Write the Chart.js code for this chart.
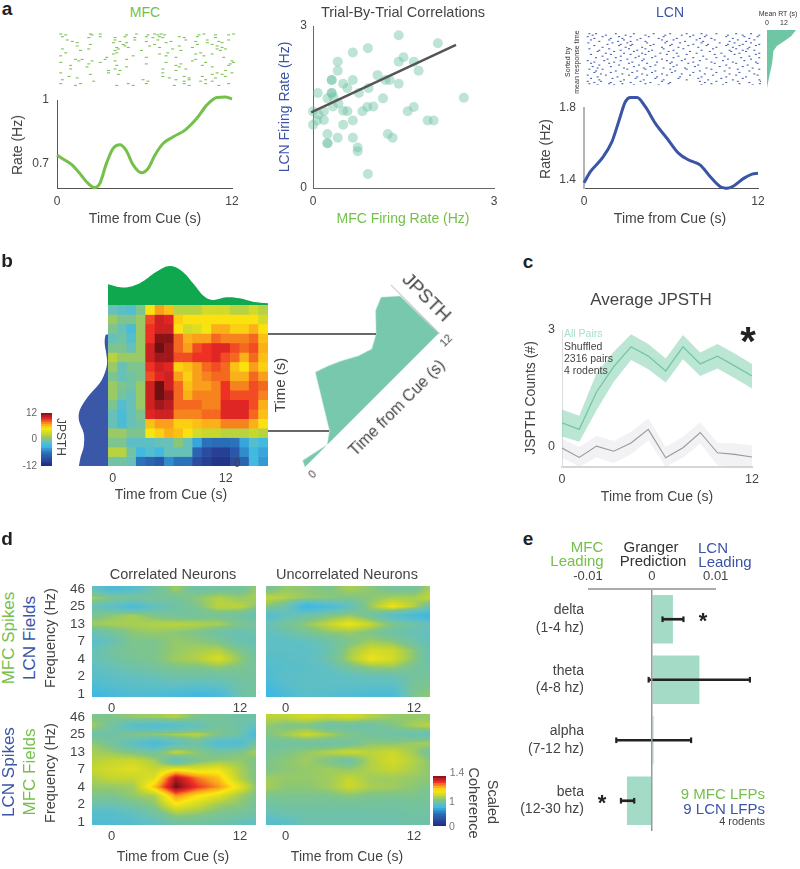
<!DOCTYPE html>
<html>
<head>
<meta charset="utf-8">
<script src="https://cdn.jsdelivr.net/npm/chart.js@4/dist/chart.umd.min.js"></script>
<style>
  html, body { margin: 0; padding: 0; background: #fff; }
  #page { position: relative; width: 800px; height: 869px; overflow: hidden; font-family: "Liberation Sans", Arial, sans-serif; }
  #page canvas { position: absolute; }
  .lbl { position: absolute; white-space: nowrap; line-height: 1; }
</style>
</head>
<body>
<div id="page"></div>
<script>
// ---- panel a: rate curves (time, Hz)
const mfcTime = [0,0.53,0.99,1.56,2.02,2.59,2.94,3.39,3.85,4.31,4.72,5.23,5.8,6.26,6.72,7.29,7.98,8.78,9.59,10.28,10.96,11.54,12];
const mfcRate = [0.742,0.719,0.698,0.656,0.617,0.589,0.609,0.703,0.773,0.79,0.766,0.695,0.659,0.68,0.742,0.797,0.828,0.859,0.914,0.977,1.012,1.014,1.005];
const lcnTime = [0,0.44,1.24,1.93,2.39,2.85,3.2,3.66,4.23,4.92,5.72,6.53,7.22,8.02,8.71,9.4,9.86,10.32,11.01,11.59,12];
const lcnRate = [1.385,1.446,1.52,1.613,1.724,1.835,1.859,1.859,1.807,1.715,1.632,1.548,1.511,1.483,1.418,1.363,1.354,1.367,1.409,1.433,1.437];

// rasters: [trial row, [time bins]]
const mfcRaster = [
  [93,[180,270,300,410,465,485,615,705]],[96,[195,275,380,445,475,495,600,650,690]],
  [102,[185,300,375,440,480,540,595]],[105,[265,345,405,460,490,555,650]],
  [113,[200,345,405,475,560,625,690]],[118,[215,360,440,515,590,660]],
  [122,[230,340,380,500,625,670]],[128,[270,370,465,595,640]],
  [133,[230,375,450,540,655]],[138,[350,385,480,580,670]],
  [143,[185,265,355,520,655,680]],[148,[240,345,425,545,665]],
  [156,[195,350,505,605]],[160,[340,480,590,640]],
  [166,[180,400,500,615]],[171,[320,440,530,675]],
  [178,[225,245,315,380,590]],[183,[235,275,345,580,700]],
  [188,[180,300,500,620,705]],[193,[265,440,545,695]],
  [198,[210,350,530,610,690]],[203,[260,380,540,640]],
  [210,[210,345,490,560]],[215,[325,360,530,680]],
  [223,[180,325,490,655,700]],[228,[270,355,640,670]],
  [235,[205,490,555,610,680]],[240,[230,510,570,650]],
  [246,[185,430,530,570,620]],[251,[280,445,555,605,640]],
  [259,[180,240,385,440,555,620,690]],[265,[225,350,400,525,570,660]]
];
const lcnRaster = [
  [92,[175,195,255,310,370,420,470,515,560,620,665]],[97,[185,225,285,345,405,455,490,530,595,640,690]],
  [102,[170,215,265,300,355,400,480,525,590,645,685]],[108,[190,240,275,330,385,440,510,545,610,660]],
  [113,[180,235,280,320,395,430,500,555,625,675]],[118,[205,262,300,345,410,465,520,600,650]],
  [123,[172,245,290,350,405,450,515,570,615,665]],[128,[230,270,305,370,425,490,535,595,640,690]],
  [132,[190,265,300,360,420,475,530,590,630,680]],[138,[215,285,335,395,445,505,560,610,660]],
  [143,[175,235,295,345,400,460,550,620,655]],[148,[205,270,320,365,430,515,600,640,675]],
  [152,[200,250,310,355,415,480,540,605,650]],[158,[225,280,335,390,440,500,575,630,690]],
  [162,[180,240,300,345,410,470,555,615,680]],[168,[215,270,325,375,445,520,585,660]],
  [173,[195,255,315,365,430,490,560,635,690]],[178,[230,290,340,395,465,530,595,665]],
  [183,[170,220,270,335,410,455,510,580,645]],[188,[190,250,305,380,425,490,545,610,680]],
  [192,[180,235,295,350,420,475,555,620,685]],[198,[205,265,325,375,440,505,590,655]],
  [203,[185,240,310,360,430,495,570,640]],[208,[200,280,340,400,465,530,600,670]],
  [212,[175,215,290,345,420,470,545,625,690]],[218,[195,255,320,375,435,510,585,660]],
  [223,[190,240,305,365,425,490,560,630]],[228,[210,275,335,395,455,525,600,675]],
  [232,[170,225,295,350,410,480,550,620,685]],[238,[200,260,320,380,450,515,590,650]],
  [243,[180,245,315,375,445,505,575,640]],[248,[205,280,340,400,470,535,610,690]],
  [253,[170,210,270,330,395,510,560,625,695]],[257,[190,240,300,360,420,525,590,660]],
  [261,[175,235,275,345,415,545,630,692]],[265,[200,250,310,385,515,580,670]]
];
const rtTrial = [92,110,125,140,155,190,230,265];
const rtMean = [1,0.84,0.6,0.34,0.22,0.18,0.08,0];

// trial by trial scatter
const mfcFiring = [1.42,2.07,0.91,0.66,1.5,1.42,1.67,0.41,0.41,1.75,1.07,0.31,0.31,0.66,1.2,1.27,1.42,0.5,0.57,0.92,0.76,0.08,0.31,0.31,0.24,0.34,1.16,2.5,0.42,1.67,0.9,1,0,0.5,0.57,0.82,1.57,0.33,0.09,0.18,0.18,0.07,0.66,0,0.5,1.9,2,0.24,0.41,0.66,1.24,1.32,0.24,0.24,0.74,0.74,0.91];
const lcnFiring = [2.83,2.68,2.59,2.51,2.42,2.34,2.34,2.34,2.17,2.17,2.09,2,2,2,2,2,1.93,1.93,1.85,1.85,1.76,1.76,1.76,1.76,1.66,1.68,1.66,1.67,1.57,1.5,1.5,1.51,1.42,1.43,1.42,1.42,1.42,1.51,1.36,1.42,1.26,1.25,1.25,1.17,1.17,1.25,1.25,1,0.93,0.93,1,0.93,0.83,0.83,0.75,0.68,0.26];
const fitX = [-0.03,2.37];
const fitY = [1.4,2.65];

// ---- panel b: JPSTH matrix, top row first
const jpsthCols = ['0','1','2','3','4','5','6','7','8','9','10','11','12','13','14','15','16'];
const jpsth = [
  [-1,-1.5,-2,0,5,7,6,2,2,2,3,3,3,2,2,3,2],
  [1,0,0,1,8.5,10,9.5,5.5,5,5,5,5,5,5,5,5,3],
  [0,-1,-2.5,1,9,10,10,5,3,3.5,4.5,6.5,6.5,5.5,5.5,6.5,5],
  [-1,-0.5,-2,1,9,11.5,11.5,8,6.5,7,7,8,7.5,7.5,7.5,8,6],
  [0,0,-1,1,10,12,11,8,7,8.5,9,9.5,9.5,8.5,8,8.5,6.5],
  [2,1,1,1,10,11,11,8.5,8.5,9,9,9.5,8.5,8,6.5,8,6],
  [1,-1,0,0,9,10,9.5,5.5,6,7,8,8.5,8,6,5,7,5.5],
  [0,-1,-0.5,0,8.5,9.5,10,7,5.5,7,7.5,8,8,6.5,6.5,8,7],
  [1,0,-0.5,1,10,12,10,8,6,7,7,7.5,9,7.5,7.5,8.5,8],
  [1,-0.5,-1,1,10,12,11,8,6.5,7.5,7.5,7.5,9,8.5,8.5,8.5,7.5],
  [0,-2,-1,1,10,11,10.5,8,8,8,7.5,7.5,9.5,9.5,9.5,8.5,6.5],
  [-1,-2.5,-1,0,9.5,10,10,7.5,7.5,7.5,8,8,9.5,9.5,9.5,8,6],
  [-1,-2.5,-1,-0.5,6,7,7,5.5,5.5,6,6.5,6.5,7.5,7.5,7.5,6.5,5],
  [1,1,0,0,4.5,5.5,6.5,6,5,3,2.5,2.5,2,2,2,2.5,2],
  [0,0,-1.5,-1.5,-1.5,-1,-1,0.5,-1,-4,-6,-6.5,-6.5,-6,-4,-2,-3],
  [2,2,-0.5,-3,-2,-3,-1,-1,-1,-7,-9,-10,-10,-8,-5,-3,-4],
  [-0.5,-0.5,-1,-6,-7,-8,-5,-6,-6,-9,-10,-11,-11,-9,-7,-3,-4.5]
];
const topDensityX = [0,1.6,3.37,5.14,6.56,7.8,9.04,10.28,11.17,12.59,14,15.4,17];
const topDensityY = [0.53,0.45,0.56,0.85,1,0.88,0.56,0.21,0.13,0.197,0.17,0.085,0.043];
const leftDensityRow = [0,0.99,2.04,3.45,4.86,5.92,7.32,8.73,9.79,10.85,11.9,12.96,13.84,13.9];
const leftDensityVal = [0.97,0.91,0.81,0.81,0.97,0.94,0.67,0.28,0.11,0.03,0.06,0.11,0.08,0];
const diagTime = [0,0.19,2,2.74,4.72,5.5,6.34,7.39,8.3,9.15,10.2,11.04,11.95,12];
const diagCount = [0,0.38,0,0.52,3.6,3.35,3,2.45,2.18,2.62,3.66,4,3.22,0];

// ---- panel c: average JPSTH
const avgTime = [0,1.09,2.18,3.27,4.36,5.45,6.55,7.64,8.73,9.82,10.91,12];
const allMean = [0.62,0.45,1.41,2.06,2.57,2.33,1.95,2.57,2.13,2.33,2.08,1.82];
const allUpper = [0.96,0.8,1.89,2.44,2.89,2.64,2.27,2.87,2.42,2.64,2.4,2.13];
const allLower = [0.27,0.13,0.94,1.67,2.23,1.99,1.65,2.25,1.82,2.01,1.76,1.5];
const shufMean = [-0.03,-0.27,0.02,-0.11,0.1,0.45,-0.28,-0.02,0.37,-0.15,-0.19,-0.26];
const shufUpper = [0.21,0,0.28,0.15,0.39,0.73,0,0.26,0.63,0.11,0.09,0.04];
const shufLower = [-0.27,-0.51,-0.27,-0.41,-0.19,0.17,-0.51,-0.27,0.09,-0.47,-0.51,-0.51];

// ---- panel d: scaled coherence, top row (46 Hz) first
const freqLabels = ['1','2','4','7','13','25','46'];
const cohTime = [-2,0,2,4,6,8,10,12,13.5];
const cohCorrTop = [
  [0.92,0.8,0.85,0.95,1.04,0.95,0.97,0.97,1.03],
  [1.05,1,0.98,0.98,0.98,1.02,1.06,1.03,1.05],
  [0.93,0.88,0.8,0.9,0.95,1,1.07,1.07,1.02],
  [0.98,1.02,1.05,1,0.97,0.97,0.98,0.96,0.92],
  [1.04,1.05,1.05,1.06,1.07,1.06,1.05,1,0.97],
  [0.92,0.97,1.02,1.03,1.02,1,0.95,0.92,0.95],
  [0.86,0.92,1,1,1.03,1.02,1,0.93,0.92],
  [0.9,0.97,1,1,1.03,1.05,1.06,1,0.95],
  [0.92,0.95,0.98,1,1.04,1.06,1.11,1.03,0.97],
  [0.88,0.92,0.95,0.97,1,1,1.02,1,0.97],
  [0.85,0.88,0.9,0.92,0.95,0.95,0.95,0.97,0.97],
  [0.8,0.85,0.87,0.88,0.9,0.88,0.9,0.95,0.97],
  [0.73,0.78,0.82,0.82,0.78,0.76,0.78,0.95,0.97]
];
const cohUncorrTop = [
  [0.98,1.03,1.02,1,1.05,1.02,0.98,0.98,1.05],
  [1.08,1.06,1.03,1.02,1,1.02,1.05,1.05,1.08],
  [1.02,0.95,0.72,0.8,0.9,1.04,1.14,1.06,0.95],
  [0.82,0.9,0.95,1,1.03,0.97,0.86,0.78,0.72],
  [0.92,0.98,1.03,1.08,1.14,1.08,1,0.95,0.92],
  [0.88,0.93,0.98,1.02,1.03,1,0.95,0.92,0.9],
  [0.88,0.88,0.9,0.95,1,1.04,1.02,0.95,0.9],
  [0.88,0.88,0.88,0.93,1.04,1.1,1.09,1.02,0.92],
  [0.85,0.87,0.88,0.95,1.05,1.14,1.1,1.02,0.93],
  [0.82,0.85,0.87,0.9,0.98,1.02,1.03,0.98,0.95],
  [0.8,0.87,0.88,0.88,0.9,0.92,0.92,0.97,0.98],
  [0.75,0.85,0.88,0.88,0.88,0.88,0.88,0.98,1],
  [0.72,0.8,0.87,0.85,0.82,0.8,0.8,1,1.02]
];
const cohCorrBottom = [
  [1,1,1.03,1.04,1.06,1,0.97,0.95,0.95],
  [1.05,0.97,0.85,0.82,0.85,0.9,0.98,0.95,0.9],
  [0.95,0.95,1,1.02,1.05,1.07,1,0.95,0.78],
  [1.03,0.98,0.88,0.78,0.88,0.95,0.82,0.82,0.98],
  [1.05,1.03,1,0.97,1.08,1.02,0.97,1,1.05],
  [1.06,1.08,1.09,1.05,0.9,1,1.03,1.03,1],
  [1.08,1.1,1.12,1.08,1.15,1.12,1.14,1.05,1],
  [1.05,1.08,1.08,1.12,1.36,1.26,1.2,1.06,1],
  [1.03,1.03,1.04,1.2,1.4,1.3,1.24,1.13,1.02],
  [1,1,1.03,1.05,1.24,1.17,1.12,1.04,1],
  [0.95,0.93,0.98,1.02,1.15,1.1,1.04,1.02,0.98],
  [0.85,0.85,0.9,0.97,1.05,1.03,1,0.98,0.95],
  [0.82,0.82,0.85,0.9,0.97,0.97,0.95,0.92,0.9]
];
const cohUncorrBottom = [
  [1.07,1.07,1.1,1.08,1.1,1.06,1.03,1.03,1.03],
  [1.03,1,1,0.95,0.95,0.95,1,1.05,1.07],
  [1,1.04,1.09,1.05,1,0.97,0.95,0.93,0.92],
  [0.96,0.96,0.96,0.95,0.97,1.02,1.02,1.04,1.05],
  [0.97,1,1.03,1.06,1.09,1.07,1.09,1.04,0.97],
  [1,1.02,1.04,1,0.96,1.06,1.1,1.06,1.02],
  [1,1.02,1.03,1.04,1.03,1.06,1.08,1.05,1.02],
  [1.04,1.03,1.03,1.04,1.08,1.04,1.04,1.03,1.02],
  [1.05,1.02,1.02,1.04,1.09,1.05,1.04,1.02,1],
  [1,1,1,1,1.02,1,1,1,0.98],
  [0.95,0.97,0.97,0.97,0.97,0.97,0.96,0.97,0.97],
  [0.92,0.94,0.95,0.95,0.95,0.95,0.95,0.96,0.96],
  [0.84,0.88,0.94,0.94,0.94,0.94,0.94,0.95,0.95]
];

// ---- panel e: granger prediction
const bands = [['delta','(1-4 hz)'],['theta','(4-8 hz)'],['alpha','(7-12 hz)'],['beta','(12-30 hz)']];
const granger = [0.0033,0.00745,0.00026,-0.0039];
const grangerLow = [0.00167,-0.0005,-0.00557,-0.00484];
const grangerHigh = [0.00495,0.01536,0.00615,-0.00276];

// colours
const GREEN = '#74c04a', BLUE = '#3a54a6', TEAL = '#78c8ad', TEXT = '#444';
const jetStops = [[0,'#1f2a7c'],[0.12,'#2a4aa0'],[0.25,'#2b72bb'],[0.36,'#3cb7e6'],[0.45,'#62c0c0'],[0.52,'#88c67a'],[0.6,'#c5d62f'],[0.7,'#fce70f'],[0.79,'#f9a11b'],[0.88,'#ee2a26'],[0.94,'#b81c20'],[1,'#6e0f12']];

function jet(t) {
  t = Math.max(0, Math.min(1, t));
  for (let i = 1; i < jetStops.length; i++) {
    if (t <= jetStops[i][0]) {
      const a = jetStops[i - 1], b = jetStops[i];
      const f = (t - a[0]) / (b[0] - a[0]);
      const c = [1, 3, 5].map(k => {
        const p = parseInt(a[1].substr(k, 2), 16), q = parseInt(b[1].substr(k, 2), 16);
        return Math.round(p + (q - p) * f);
      });
      return 'rgb(' + c.join(',') + ')';
    }
  }
  return jetStops[jetStops.length - 1][1];
}
// coherence: 1 sits in the middle of the colour bar
const cohColor = v => jet(v <= 1 ? v / 2 : 0.5 + (v - 1) / 0.8);
const jpsthColor = v => jet((v + 12) / 24);

const page = document.getElementById('page');
Chart.defaults.font.family = '"Liberation Sans", Arial, sans-serif';
Chart.defaults.color = TEXT;

function label(text, x, y, size, color, rot, extra) {
  const d = document.createElement('div');
  d.className = 'lbl';
  d.textContent = text;
  d.style.left = x + 'px';
  d.style.top = y + 'px';
  d.style.fontSize = size + 'px';
  d.style.color = color || TEXT;
  d.style.transform = 'translate(-50%,-50%) rotate(' + (rot || 0) + 'deg)';
  if (extra) Object.assign(d.style, extra);
  page.appendChild(d);
}
function rule(x, y, w, h, color) {
  const d = document.createElement('div');
  d.style.cssText = 'position:absolute;left:' + x + 'px;top:' + y + 'px;width:' + w + 'px;height:' + h + 'px;background:' + color;
  page.appendChild(d);
}

// plain axis, nothing visible unless asked for
function axis(opts) {
  return Object.assign({ display: true, grid: { display: false, drawTicks: false }, border: { display: false }, ticks: { display: false } }, opts);
}
function ticksAt(vals) {
  return s => { s.ticks = vals.map(v => ({ value: v })); };
}
function tickFont(size, pad) {
  return { display: true, autoSkip: false, maxRotation: 0, padding: pad, font: { size: size }, color: TEXT, callback: v => v };
}
// tick labels may hang over the plot edge without shrinking the plot
function noEdgePadding(s) {
  s.paddingLeft = s.paddingRight = s.paddingTop = s.paddingBottom = 0;
}

// b = plot rectangle x,y,w,h and the margins l,t,r,b round it
function addChart(b, config, rotate) {
  const c = document.createElement('canvas');
  const W = b.l + b.w + b.r, H = b.t + b.h + b.b;
  c.width = W; c.height = H;
  c.style.left = (b.x - b.l) + 'px';
  c.style.top = (b.y - b.t) + 'px';
  c.style.width = W + 'px';
  c.style.height = H + 'px';
  if (rotate) {
    c.style.transformOrigin = b.l + 'px ' + (b.t + b.h) + 'px';
    c.style.transform = 'rotate(' + rotate + 'deg)';
  }
  page.appendChild(c);
  const sx = config.options.scales.x, sy = config.options.scales.y;
  const xTop = sx.position === 'top', yRight = sy.position === 'right';
  sx.afterFit = s => { s.height = xTop ? b.t : b.b; noEdgePadding(s); };
  sy.afterFit = s => { s.width = yRight ? b.r : b.l; noEdgePadding(s); };
  config.options.responsive = false;
  config.options.animation = false;
  config.options.layout = { padding: { left: yRight ? b.l : 0, right: yRight ? 0 : b.r, top: xTop ? 0 : b.t, bottom: xTop ? b.b : 0 } };
  config.options.plugins = Object.assign({ legend: { display: false }, tooltip: { enabled: false } }, config.options.plugins);
  return new Chart(c, config);
}
const pairs = (xs, ys) => xs.map((x, i) => ({ x: x, y: ys[i] }));

// ---------------- panel a
function rasterChart(b, rows, xr, yr, color, radius) {
  addChart(b, {
    type: 'scatter',
    data: { datasets: [{
      data: rows.flatMap(r => r[1].map(x => ({ x: x, y: r[0] }))),
      pointStyle: 'line', pointRadius: radius, borderColor: color, backgroundColor: color, borderWidth: 1.1
    }] },
    options: { scales: {
      x: axis({ type: 'linear', min: xr[0], max: xr[1] }),
      y: axis({ type: 'linear', min: yr[0], max: yr[1], reverse: true })
    } }
  });
}
rasterChart({ x: 57, y: 30, w: 180, h: 60, l: 4, t: 2, r: 4, b: 2 }, mfcRaster, [172, 712], [90, 270], '#7cc354', 1.5);
rasterChart({ x: 585, y: 30, w: 177, h: 58, l: 4, t: 2, r: 4, b: 2 }, lcnRaster, [165, 695], [90, 265], '#4660b4', 1);

function rateChart(b, xs, ys, yr, yTicks, color, yBorder) {
  addChart(b, {
    type: 'scatter',
    data: { datasets: [{ data: pairs(xs, ys), showLine: true, cubicInterpolationMode: 'monotone', clip: false, pointRadius: 0, borderColor: color, borderWidth: 3 }] },
    options: { scales: {
      x: axis({ type: 'linear', min: 0, max: 12, afterBuildTicks: ticksAt([0, 12]), border: { display: true, color: '#555', width: 1 }, ticks: tickFont(12, 6) }),
      y: axis({ type: 'linear', min: yr[0], max: yr[1], afterBuildTicks: ticksAt(yTicks), border: yBorder, ticks: tickFont(12, 8) })
    } }
  });
}
rateChart({ x: 57, y: 100, w: 175, h: 88, l: 40, t: 12, r: 16, b: 24 }, mfcTime, mfcRate, [0.5875, 1], [0.7, 1], '#74c04a', { display: true, color: '#555', width: 1 });
rateChart({ x: 584, y: 108, w: 174, h: 80, l: 40, t: 16, r: 16, b: 24 }, lcnTime, lcnRate, [1.3556, 1.8], [1.4, 1.8], '#3a54a6', { display: true, color: '#b5b5b5', width: 2 });

addChart({ x: 313, y: 26, w: 181, h: 162, l: 26, t: 10, r: 14, b: 24 }, {
  type: 'scatter',
  data: { datasets: [
    { data: pairs(fitX, fitY), showLine: true, pointRadius: 0, borderColor: '#555', borderWidth: 2.5, clip: false },
    { data: pairs(mfcFiring, lcnFiring), pointRadius: 5, borderWidth: 0, backgroundColor: 'rgba(110,195,165,0.45)', clip: false }
  ] },
  options: { scales: {
    x: axis({ type: 'linear', min: 0, max: 3, afterBuildTicks: ticksAt([0, 3]), border: { display: true, color: '#666', width: 1 }, ticks: tickFont(12, 6) }),
    y: axis({ type: 'linear', min: 0, max: 3, afterBuildTicks: ticksAt([0, 3]), border: { display: true, color: '#666', width: 1 }, ticks: tickFont(12, 6) })
  } }
});

addChart({ x: 767, y: 30, w: 29, h: 58, l: 2, t: 2, r: 2, b: 2 }, {
  type: 'line',
  data: { datasets: [{ data: pairs(rtMean, rtTrial), fill: 'origin', backgroundColor: '#6fc6a5', borderWidth: 0, pointRadius: 0 }] },
  options: { indexAxis: 'y', scales: {
    x: axis({ type: 'linear', min: 0, max: 1 }),
    y: axis({ type: 'linear', min: 92, max: 265, reverse: true })
  } }
});

// ---------------- panel b
addChart({ x: 108, y: 305, w: 160, h: 161, l: 4, t: 2, r: 4, b: 22 }, {
  type: 'bar',
  data: {
    labels: jpsthCols,
    datasets: jpsth.map((row, i) => ({
      data: row.map(() => [16 - i, 17 - i]),
      backgroundColor: row.map(jpsthColor),
      grouped: false, categoryPercentage: 1, barPercentage: 1, borderWidth: 0
    }))
  },
  options: { scales: {
    x: axis({ type: 'category', ticks: Object.assign(tickFont(12.5, 5), { callback: function (v) { return v === 0 || v === 12 ? this.getLabelForValue(v) : ''; } }) }),
    y: axis({ type: 'linear', min: 0, max: 17 })
  } }
});
addChart({ x: 108, y: 266, w: 160, h: 39, l: 2, t: 2, r: 2, b: 0 }, {
  type: 'scatter',
  data: { datasets: [{ data: pairs(topDensityX, topDensityY), showLine: true, tension: 0.4, fill: 'origin', backgroundColor: '#10a84f', borderWidth: 0, pointRadius: 0 }] },
  options: { scales: { x: axis({ type: 'linear', min: 0, max: 17 }), y: axis({ type: 'linear', min: 0, max: 1 }) } }
});
addChart({ x: 78, y: 305, w: 30, h: 161, l: 2, t: 2, r: 0, b: 2 }, {
  type: 'line',
  data: { datasets: [{ data: pairs(leftDensityVal, leftDensityRow), fill: 'origin', tension: 0.35, backgroundColor: '#3a57a8', borderWidth: 0, pointRadius: 0 }] },
  options: { indexAxis: 'y', scales: {
    x: axis({ type: 'linear', min: 0, max: 1, reverse: true }),
    y: axis({ type: 'linear', min: 0, max: 17 })
  } }
});
// colour bar of the JPSTH
const jpsthBarLevels = [-12,-11,-10,-9,-8,-7,-6,-5,-4,-3,-2,-1,0,1,2,3,4,5,6,7,8,9,10,11];
addChart({ x: 41, y: 413, w: 11, h: 53, l: 24, t: 6, r: 2, b: 6 }, {
  type: 'bar',
  data: { labels: ['JPSTH'], datasets: jpsthBarLevels.map(v => ({
    data: [[v, v + 1]], backgroundColor: jpsthColor(v + 0.5), grouped: false, categoryPercentage: 1, barPercentage: 1, borderWidth: 0
  })) },
  options: { scales: {
    x: axis({ type: 'category' }),
    y: axis({ type: 'linear', min: -12, max: 12, afterBuildTicks: ticksAt([-12, 0, 12]), ticks: Object.assign(tickFont(10, 4), { color: '#666' }) })
  } }
});
// the JPSTH diagonal, drawn on its own axes and turned 45 degrees
addChart({ x: 305, y: 399, w: 189, h: 68, l: 6, t: 6, r: 28, b: 34 }, {
  type: 'scatter',
  data: { datasets: [{ data: pairs(diagTime, diagCount), showLine: true, fill: 'origin', backgroundColor: TEAL, borderColor: TEAL, borderWidth: 0, pointRadius: 0 }] },
  options: { scales: {
    x: axis({ type: 'linear', min: 0, max: 12, afterBuildTicks: ticksAt([0, 12]), ticks: tickFont(11, 4) }),
    y: axis({ type: 'linear', position: 'right', min: 0, max: 4.1, border: { display: true, color: '#ccc', width: 1 },
      title: { display: true, text: 'JPSTH', font: { size: 19 }, color: TEXT, padding: 0 } })
  } }
}, -45);
rule(268, 333, 108, 2, '#6b6668');
rule(268, 430, 61, 2, '#6b6668');

// ---------------- panel c
addChart({ x: 562, y: 330, w: 190, h: 137, l: 28, t: 10, r: 14, b: 24 }, {
  type: 'scatter',
  data: { datasets: [
    { data: pairs(avgTime, allUpper), showLine: true, fill: '+1', backgroundColor: 'rgba(120,205,170,0.5)', borderWidth: 0, pointRadius: 0 },
    { data: pairs(avgTime, allLower), showLine: true, borderWidth: 0, pointRadius: 0 },
    { data: pairs(avgTime, allMean), showLine: true, borderColor: '#6fbfa3', borderWidth: 1.3, pointRadius: 0 },
    { data: pairs(avgTime, shufUpper), showLine: true, fill: '+1', backgroundColor: 'rgba(205,205,215,0.25)', borderWidth: 0, pointRadius: 0 },
    { data: pairs(avgTime, shufLower), showLine: true, borderWidth: 0, pointRadius: 0 },
    { data: pairs(avgTime, shufMean), showLine: true, borderColor: '#8a8a8a', borderWidth: 1.1, pointRadius: 0 }
  ] },
  options: { scales: {
    x: axis({ type: 'linear', min: 0, max: 12, afterBuildTicks: ticksAt([0, 12]), border: { display: true, color: '#d5d5d5', width: 2 }, ticks: tickFont(12.5, 5) }),
    y: axis({ type: 'linear', min: -0.515, max: 3, afterBuildTicks: ticksAt([0, 3]), border: { display: true, color: '#ddd', width: 1 }, ticks: tickFont(12.5, 7) })
  } }
});

// ---------------- panel d
function meshPlugin(grid) {
  return {
    id: 'meshFill',
    beforeDatasetsDraw(chart) {
      const ctx = chart.ctx, a = chart.chartArea, sx = chart.scales.x, sy = chart.scales.y;
      const n = grid.length - 1, m = cohTime.length - 1;
      for (let py = Math.round(a.top); py < Math.round(a.bottom); py++) {
        const rowPos = Math.max(0, Math.min(n, (6 - sy.getValueForPixel(py + 0.5)) * 2));
        const r0 = Math.min(n - 1, Math.floor(rowPos)), fr = rowPos - r0;
        for (let px = Math.round(a.left); px < Math.round(a.right); px++) {
          const t = Math.max(cohTime[0], Math.min(cohTime[m], sx.getValueForPixel(px + 0.5)));
          let c0 = 0;
          while (c0 < m - 1 && t > cohTime[c0 + 1]) c0++;
          const fc = (t - cohTime[c0]) / (cohTime[c0 + 1] - cohTime[c0]);
          const v = (grid[r0][c0] * (1 - fc) + grid[r0][c0 + 1] * fc) * (1 - fr) + (grid[r0 + 1][c0] * (1 - fc) + grid[r0 + 1][c0 + 1] * fc) * fr;
          ctx.fillStyle = cohColor(v);
          ctx.fillRect(px, py, 1, 1);
        }
      }
    }
  };
}
function cohChart(x, y, grid, showFreq) {
  addChart({ x: x, y: y, w: 164, h: 111, l: 36, t: 12, r: 14, b: 24 }, {
    type: 'scatter',
    plugins: [meshPlugin(grid)],
    data: { datasets: [{ pointRadius: 0, data: grid.flatMap((row, k) => row.map((v, c) => ({ x: cohTime[c], y: 6 - k / 2, v: v }))) }] },
    options: { scales: {
      x: axis({ type: 'linear', min: -1.84, max: 13.5, afterBuildTicks: ticksAt([0, 12]), ticks: tickFont(13, 4) }),
      y: axis({ type: 'linear', min: -0.18, max: 6.18, afterBuildTicks: ticksAt([0, 1, 2, 3, 4, 5, 6]),
        ticks: showFreq ? Object.assign(tickFont(13.5, 7), { callback: v => freqLabels[v] }) : { display: false } })
    } }
  });
}
cohChart(92, 586, cohCorrTop, true);
cohChart(266, 586, cohUncorrTop, false);
cohChart(92, 714, cohCorrBottom, true);
cohChart(266, 714, cohUncorrBottom, false);

const cohBarLevels = [0,0.1,0.2,0.3,0.4,0.5,0.6,0.7,0.8,0.9,1,1.04,1.08,1.12,1.16,1.2,1.24,1.28,1.32,1.36];
addChart({ x: 433, y: 776, w: 13, h: 50, l: 2, t: 2, r: 2, b: 2 }, {
  type: 'bar',
  data: { labels: ['Scaled Coherence'], datasets: cohBarLevels.map((v, i) => ({
    data: [[i, i + 1]], backgroundColor: cohColor(v + (i < 10 ? 0.05 : 0.02)), grouped: false, categoryPercentage: 1, barPercentage: 1, borderWidth: 0
  })) },
  options: { scales: {
    x: axis({ type: 'category' }),
    y: axis({ type: 'linear', min: 0, max: cohBarLevels.length })
  } }
});

// ---------------- panel e
addChart({ x: 588, y: 589, w: 166, h: 242, l: 100, t: 18, r: 4, b: 2 }, {
  type: 'bar',
  data: { labels: bands, datasets: [
    { data: granger, backgroundColor: '#a3dbc6', grouped: false, categoryPercentage: 1, barPercentage: 0.8, order: 3 },
    { data: grangerLow.map((v, i) => [v, grangerHigh[i]]), backgroundColor: '#222', grouped: false, barThickness: 2, order: 2 },
    { data: grangerLow.map(v => [v - 0.00012, v + 0.00012]), backgroundColor: '#222', grouped: false, barThickness: 5, order: 1 },
    { data: grangerHigh.map(v => [v - 0.00012, v + 0.00012]), backgroundColor: '#222', grouped: false, barThickness: 5, order: 1 }
  ] },
  options: { indexAxis: 'y', scales: {
    x: axis({ type: 'linear', position: 'top', min: -0.01, max: 0.016, afterBuildTicks: ticksAt([-0.01, 0, 0.01]),
      grid: { display: true, drawTicks: false, z: 1, lineWidth: 1.5, color: c => c.tick && c.tick.value === 0 ? '#999' : 'rgba(0,0,0,0)' },
      ticks: tickFont(13, 5) }),
    y: axis({ type: 'category', ticks: { display: true, autoSkip: false, padding: 4, font: { size: 14, lineHeight: 1.25 }, color: TEXT } })
  } }
});
rule(588, 588, 128, 2, '#aaa');

// ---------------- text
[['a', 7, 8], ['b', 7, 260], ['c', 528, 261], ['d', 7, 538], ['e', 528, 538]].forEach(p =>
  label(p[0], p[1], p[2], 19, '#222', 0, { fontWeight: 'bold' }));

label('MFC', 145, 12, 14, GREEN);
label('Trial-By-Trial Correlations', 403, 12, 14.5, TEXT);
label('LCN', 670, 12, 14, BLUE);
label('Rate (Hz)', 17, 145, 14, TEXT, -90);
label('Time from Cue (s)', 145, 218, 14);
label('LCN Firing Rate (Hz)', 284, 107, 14, BLUE, -90);
label('MFC Firing Rate (Hz)', 403, 218, 14, GREEN);
label('Rate (Hz)', 545, 149, 14, TEXT, -90);
label('Time from Cue (s)', 670, 218, 14);
label('Mean RT (s)', 778, 13, 7, '#333');
label('0', 767, 22, 7, '#333');
label('12', 784, 22, 7, '#333');
label('Sorted by', 567, 62, 7, '#333', -90);
label('mean response time', 576, 62, 7, '#333', -90);

label('JPSTH', 61, 437, 12, TEXT, 90);
label('0', 237, 463, 12, '#444');
label('Time from Cue (s)', 171, 494, 14);
label('Time (s)', 279, 385, 15, TEXT, -90);
label('Time from Cue (s)', 397, 408, 16, TEXT, -45);

label('Average JPSTH', 651, 299, 17);
label('JSPTH Counts (#)', 530, 398, 14, TEXT, -90);
label('Time from Cue (s)', 657, 496, 14);
label('All Pairs', 564, 333, 10.5, '#a6e0cf', 0, { transform: 'translateY(-50%)' });
label('Shuffled', 564, 346, 10.5, '#444', 0, { transform: 'translateY(-50%)' });
label('2316 pairs', 564, 358, 10.5, '#444', 0, { transform: 'translateY(-50%)' });
label('4 rodents', 564, 370, 10.5, '#444', 0, { transform: 'translateY(-50%)' });
label('*', 748, 341, 40, '#222', 0, { fontWeight: 'bold' });

label('Correlated Neurons', 173, 574, 14.5);
label('Uncorrelated Neurons', 347, 574, 14.5);
label('MFC Spikes', 8, 638, 17, GREEN, -90);
label('LCN Fields', 29, 638, 17, BLUE, -90);
label('Frequency (Hz)', 50, 638, 14.5, TEXT, -90);
label('LCN Spikes', 8, 772, 17, BLUE, -90);
label('MFC Fields', 29, 772, 17, GREEN, -90);
label('Frequency (Hz)', 50, 773, 14.5, TEXT, -90);
label('Time from Cue (s)', 173, 856, 14);
label('Time from Cue (s)', 347, 856, 14);
label('1.4', 457, 772, 10.5, '#777');
label('1', 452, 801, 10.5, '#777');
label('0', 452, 826, 10.5, '#777');
label('Coherence', 474, 803, 14.5, TEXT, 90);
label('Scaled', 493, 802, 14.5, TEXT, 90);

label('MFC', 587, 546, 15, GREEN);
label('Leading', 577, 560, 15, GREEN);
label('Granger', 651, 546, 15, '#333');
label('Prediction', 653, 560, 15, '#333');
label('LCN', 713, 547, 15, BLUE);
label('Leading', 725, 561, 15, BLUE);
label('*', 703, 621, 22, '#222', 0, { fontWeight: 'bold' });
label('*', 602, 803, 22, '#222', 0, { fontWeight: 'bold' });
label('9 MFC LFPs', 765, 793, 15, GREEN, 0, { transform: 'translate(-100%,-50%)' });
label('9 LCN LFPs', 765, 808, 15, BLUE, 0, { transform: 'translate(-100%,-50%)' });
label('4 rodents', 765, 821, 11, TEXT, 0, { transform: 'translate(-100%,-50%)' });
</script>
</body>
</html>
